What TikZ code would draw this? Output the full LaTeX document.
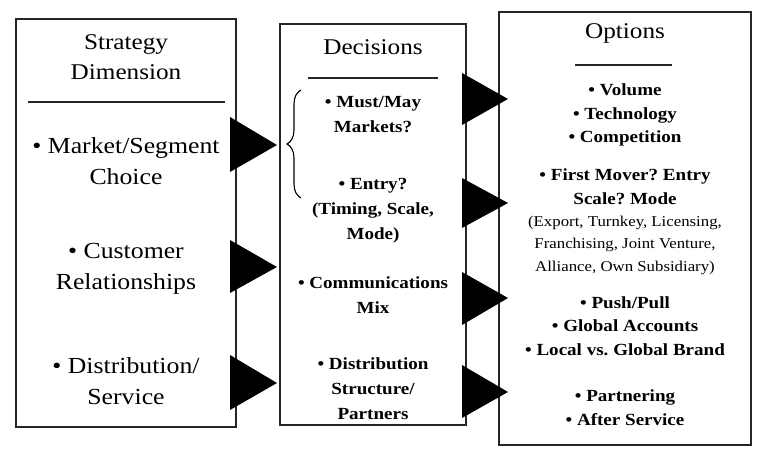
\documentclass[tikz,border=0pt]{standalone}
\usepackage{fontspec}
\setmainfont[FakeStretch=1.12]{Liberation Serif}
\usetikzlibrary{decorations.pathreplacing}
\frenchspacing
\begin{document}
\frenchspacing
\begin{tikzpicture}[x=1pt,y=-1pt,
  panel/.style={draw=black!85,line width=1.1pt},
  rulestyle/.style={draw=black!85,line width=1.8pt},
  arrowtri/.style={fill=black},
  ttl/.style={align=center,inner sep=0pt,font=\fontsize{22.5}{29.5}\selectfont},
  colA/.style={align=center,inner sep=0pt,font=\fontsize{23}{31.5}\selectfont},
  colB/.style={align=center,inner sep=0pt,font=\bfseries\fontsize{17}{25}\selectfont},
  colC/.style={align=center,inner sep=0pt,font=\bfseries\fontsize{17}{23.5}\selectfont},
  colP/.style={align=center,inner sep=0pt,font=\fontsize{15}{22.5}\selectfont}]
\useasboundingbox (0,0) rectangle (768,460);
% panels
\draw[panel] (16,19) rectangle (236,427);
\draw[panel] (280,24) rectangle (466,425);
\draw[panel] (499,12) rectangle (751,445);
% titles and rules
\node[ttl] (t1) at (126,57) {Strategy\\Dimension};
\draw[rulestyle] (28,102) -- (225,102);
\node[ttl] (t2) at (373,47) {Decisions};
\draw[rulestyle] (308,78) -- (438,78);
\node[ttl] (t3) at (625,33) {Options};
\draw[rulestyle] (575,65) -- (672,65);
% column 1
\node[colA] (a1) at (126,161) {• Market/Segment\\Choice};
\node[colA] (a2) at (126,269) {• Customer\\Relationships};
\node[colA] (a3) at (126,381) {• Distribution/\\Service};
% column 2
\node[colB] (b1) at (373,115) {• Must/May\\Markets?};
\node[colB] (b2) at (373,211) {• Entry?\\(Timing, Scale,\\Mode)};
\node[colB] (b3) at (373,295) {• Communications\\Mix};
\node[colB] (b4) at (373,389) {• Distribution\\Structure/\\Partners};
% column 3
\node[colC] (c1) at (625,115) {• Volume\\• Technology\\• Competition};
\node[colC] (c2) at (625,186.5) {• First Mover? Entry\\Scale? Mode};
\node[colP] (c2p) at (625,245) {(Export, Turnkey, Licensing,\\Franchising, Joint Venture,\\Alliance, Own Subsidiary)};
\node[colC] (c3) at (625,326) {• Push/Pull\\• Global Accounts\\• Local vs. Global Brand};
\node[colC] (c4) at (625,407.5) {• Partnering\\• After Service};
% brace
\draw[line width=1.1pt,decorate,decoration={brace,amplitude=14pt,aspect=0.5,mirror}] (301,90) -- (301,198);
% arrow triangles column 1 -> 2
\fill[arrowtri] (230,117) -- (230,172) -- (277,145) -- cycle;
\fill[arrowtri] (230,240) -- (230,293) -- (277,267) -- cycle;
\fill[arrowtri] (230,355) -- (230,410) -- (277,383) -- cycle;
% arrow triangles column 2 -> 3
\fill[arrowtri] (462,73) -- (462,125) -- (508,99) -- cycle;
\fill[arrowtri] (462,178) -- (462,228) -- (508,203) -- cycle;
\fill[arrowtri] (462,272) -- (462,325) -- (508,298) -- cycle;
\fill[arrowtri] (462,365) -- (462,418) -- (508,392) -- cycle;
\end{tikzpicture}
\end{document}
